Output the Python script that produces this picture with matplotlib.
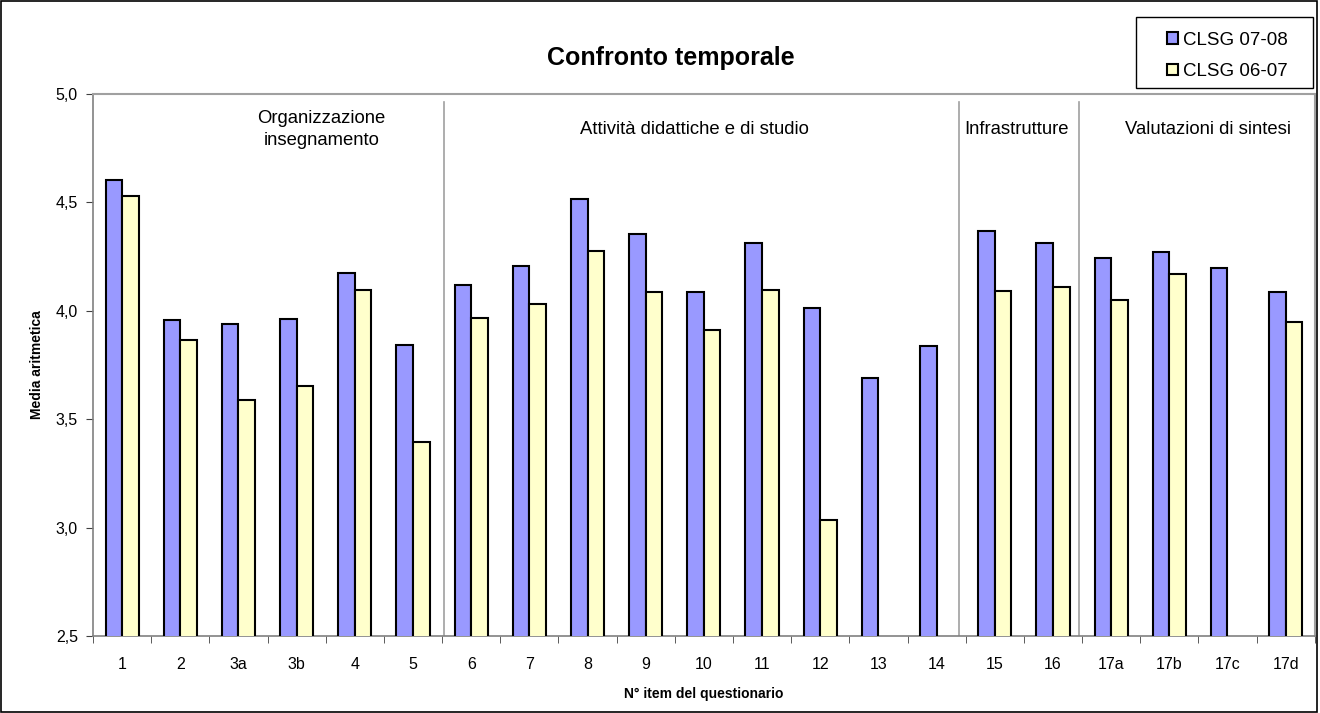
import matplotlib.pyplot as plt
import matplotlib.transforms as mtransforms
import numpy as np
from matplotlib.patches import Rectangle

plt.rcParams["font.family"] = ["Liberation Sans", "DejaVu Sans"]

# data
items = ["1", "2", "3a", "3b", "4", "5", "6", "7", "8", "9", "10", "11", "12",
         "13", "14", "15", "16", "17a", "17b", "17c", "17d"]
clsg_0708 = [4.605, 3.957, 3.939, 3.962, 4.175, 3.842, 4.12, 4.208, 4.514, 4.354,
             4.088, 4.312, 4.011, 3.691, 3.84, 4.369, 4.312, 4.242, 4.272, 4.196, 4.085]
clsg_0607 = [4.53, 3.866, 3.589, 3.652, 4.095, 3.394, 3.968, 4.031, 4.275, 4.089,
             3.912, 4.095, 3.033, np.nan, np.nan, 4.092, 4.109, 4.048, 4.168, np.nan, 3.949]
groups = ["Organizzazione\ninsegnamento", "Attività didattiche e di studio",
          "Infrastrutture", "Valutazioni di sintesi"]
group_x = [3.43, 9.84, 15.38, 18.66]
separators = [5.54, 14.38, 16.44]

fig = plt.figure(figsize=(13.2, 7.13), dpi=100)
ax = fig.add_axes([0.0705, 0.108, 0.9255, 0.76])

x = np.arange(len(items))
w = 0.285
ax.bar(x - w / 2, clsg_0708, w, color="#9999FF", edgecolor="black",
       linewidth=1.5, label="CLSG 07-08", zorder=3)
ax.bar(x + w / 2, clsg_0607, w, color="#FFFFCC", edgecolor="black",
       linewidth=1.5, label="CLSG 06-07", zorder=3)

ax.set_ylim(2.5, 5.0)
ax.set_xlim(-0.5, len(items) - 0.5)
yt = np.arange(2.5, 5.01, 0.5)
ax.set_yticks(yt)
ax.set_yticklabels([f"{v:.1f}".replace(".", ",") for v in yt], fontsize=11.5)
ax.set_xticks(x)
ax.set_xticklabels(items, fontsize=11.5)
ax.set_xticks(np.arange(-0.5, len(items), 1), minor=True)
ax.tick_params(axis="x", which="major", length=0, pad=15)
ax.tick_params(axis="x", which="minor", length=5, direction="out", color="#404040")
ax.tick_params(axis="y", length=5, direction="out", color="#404040", pad=6)

for s in ["top", "right"]:
    ax.spines[s].set_color("#A0A0A0")
    ax.spines[s].set_linewidth(1.5)
for s in ["left", "bottom"]:
    ax.spines[s].set_color("#808080")
    ax.spines[s].set_linewidth(1.2)

trans = mtransforms.blended_transform_factory(ax.transData, ax.transAxes)
for sx in separators:
    ax.plot([sx, sx], [0.0, 0.985], color="#A0A0A0", lw=1.2, transform=trans, zorder=2)
for gx, g in zip(group_x, groups):
    ax.text(gx, 0.935, g, transform=trans, ha="center", va="center", fontsize=13.3,
            linespacing=1.4)

ax.set_ylabel("Media aritmetica", fontsize=10, fontweight="bold", labelpad=8)
ax.set_xlabel("N° item del questionario", fontsize=10, fontweight="bold", labelpad=11)
fig.text(0.508, 0.919, "Confronto temporale", ha="center", va="center",
         fontsize=18, fontweight="bold")

# legend box drawn by hand so its padding matches the original
lx0, lx1 = 1136 / 1320, 1313 / 1320
ly0, ly1 = 1 - 88 / 713, 1 - 17 / 713
leg = fig.legend(loc="center", bbox_to_anchor=((lx0 + lx1) / 2 + 0.002,
                                                (ly0 + ly1) / 2 - 0.005),
                 fontsize=13.5, handlelength=0.6, handleheight=0.6, handletextpad=0.25,
                 labelspacing=0.75, frameon=False, borderpad=0, borderaxespad=0)
fig.patches.append(Rectangle((lx0, ly0), lx1 - lx0, ly1 - ly0, transform=fig.transFigure,
                             fill=False, edgecolor="black", linewidth=1.0))

fig.patches.append(Rectangle((0.001, 0.001), 0.997, 0.997, transform=fig.transFigure,
                             fill=False, edgecolor="black", linewidth=1.2))

fig.savefig("out.png", dpi=100)
